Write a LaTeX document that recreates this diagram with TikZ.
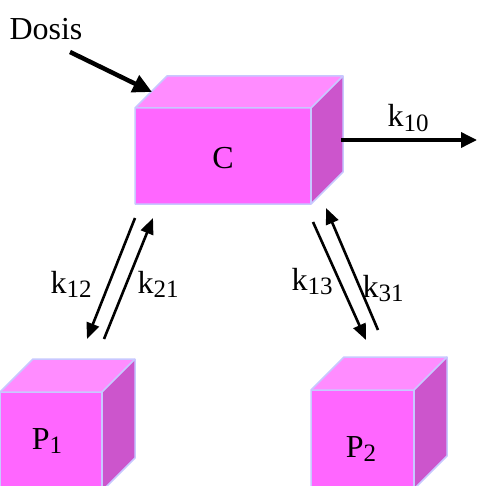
\documentclass[tikz,border=0pt]{standalone}
\usepackage{fontspec}
\setmainfont{Liberation Serif}
\usetikzlibrary{arrows.meta}
\definecolor{frontc}{HTML}{FF66FF}
\definecolor{topc}{HTML}{FF8CFF}
\definecolor{sidec}{HTML}{CC55CC}
\definecolor{edgec}{HTML}{C8C8FF}
\newcommand{\sbs}[1]{\raisebox{-4.5pt}{\fontsize{25}{25}\selectfont #1}}
\tikzset{
  face/.style={draw=edgec, line width=1.5pt, line join=round},
  lbl/.style={inner sep=0pt, anchor=base, font=\fontsize{32}{38}\selectfont},
  thickarrow/.style={line width=4.5pt, -{Triangle[length=19pt,width=18pt]}},
  midarrow/.style={line width=3.5pt, -{Triangle[length=16pt,width=15pt]}},
  thinarrow/.style={line width=2.6pt, -{Triangle[length=16pt,width=13pt]}}
}
\newcommand{\cuboid}[5]{% x1 y1 x2 y2 depth (front face corners, y-down)
  \fill[frontc] (#1,#2) rectangle (#3,#4);
  \fill[topc] (#1,#2) -- ++(#5,-#5) -- (#3+#5,#2-#5) -- (#3,#2) -- cycle;
  \fill[sidec] (#3,#2) -- (#3+#5,#2-#5) -- (#3+#5,#4-#5) -- (#3,#4) -- cycle;
  \draw[face] (#1,#4) -- (#1,#2) -- ++(#5,-#5) -- (#3+#5,#2-#5) -- (#3+#5,#4-#5) -- (#3,#4) -- cycle;
  \draw[face] (#1,#2) -- (#3,#2) -- (#3+#5,#2-#5);
  \draw[face] (#3,#2) -- (#3,#4);
}
\begin{document}
\begin{tikzpicture}[x=1pt,y=-1pt]
\useasboundingbox (0,0) rectangle (476,486);
\begin{scope}
\clip (0,0) rectangle (476,486);
\cuboid{135}{108}{311}{204}{32}
\cuboid{0}{392}{102}{491}{33}
\cuboid{311}{390}{414}{489}{33}
\end{scope}
% labels in boxes
\node[lbl] (C) at (223,168) {C};
\node[lbl] (P1) at (47,449) {P\sbs{1}};
\node[lbl] (P2) at (361,457) {P\sbs{2}};
% free labels
\node[lbl] (dosis) at (46,40) {Dosis};
\node[lbl] (k10) at (408,127) {k\sbs{10}};
\node[lbl] (k12) at (71,293) {k\sbs{12}};
\node[lbl] (k21) at (158,293) {k\sbs{21}};
\node[lbl] (k13) at (312,290) {k\sbs{13}};
\node[lbl] (k31) at (383,297) {k\sbs{31}};
% connector end points
\coordinate (dA) at (70,52);
\coordinate (dB) at (152,92);
\coordinate (oA) at (341,140);
\coordinate (oB) at (477,140);
\coordinate (a1) at (135,218);
\coordinate (a2) at (87,339);
\coordinate (b1) at (104,339);
\coordinate (b2) at (153,218);
\coordinate (c1) at (313,222);
\coordinate (c2) at (366,340);
\coordinate (e1) at (378,330);
\coordinate (e2) at (326,208);
% connectors
\draw[thickarrow] (dA) -- (dB);
\draw[midarrow] (oA) -- (oB);
\draw[thinarrow] (a1) -- (a2);
\draw[thinarrow] (b1) -- (b2);
\draw[thinarrow] (c1) -- (c2);
\draw[thinarrow] (e1) -- (e2);
\end{tikzpicture}
\end{document}
